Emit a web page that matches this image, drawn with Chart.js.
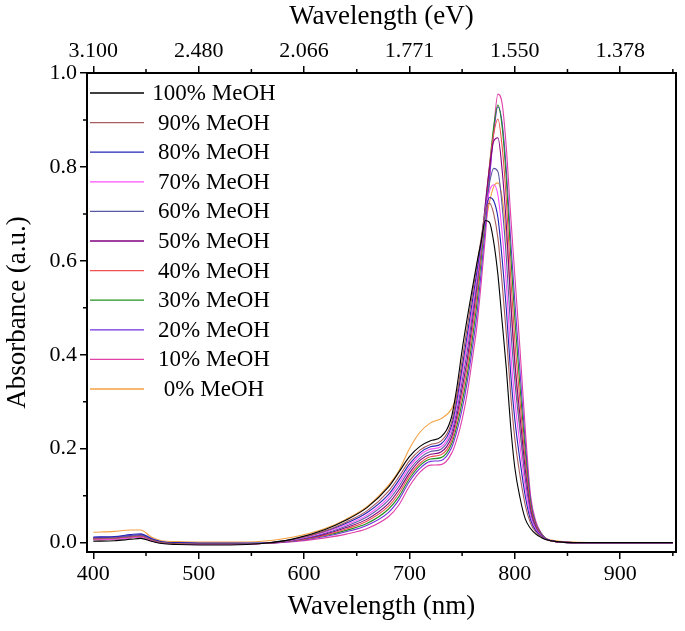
<!DOCTYPE html>
<html lang="en">
<head>
<meta charset="UTF-8">
<title>Absorbance vs wavelength</title>
<script src="https://cdn.jsdelivr.net/npm/chart.js"></script>
<style>
  body { margin: 0; background: #fff; }
  #wrap { width: 685px; height: 631px; }
</style>
</head>
<body>
<div id="wrap"><canvas id="absChart" width="685" height="631"></canvas></div>
<script>
// wavelength grid (nm), denser around the main band
const wavelengths = [400,420,435,445,455,465,480,500,530,560,590,620,640,660,680,690,700,710,720,730,740,
  745,750,755,760,764,768,772,776,780,784,788,792,796,800,805,810,815,820,825,830,840,855,880,920,950];

const nmTicks = [400,500,600,700,800,900];
const nmMinor = [450,550,650,750,850,950];
const evTickLabels = ['3.100','2.480','2.066','1.771','1.550','1.378'];
const absTicks = [0,0.2,0.4,0.6,0.8,1.0];
const absMinor = [0.1,0.3,0.5,0.7,0.9];

const seriesNames = ['100% MeOH','90% MeOH','80% MeOH','70% MeOH','60% MeOH','50% MeOH',
  '40% MeOH','30% MeOH','20% MeOH','10% MeOH','0% MeOH'];
const seriesColors = ['#000000','#a85c5c','#2424b4','#ff50ff','#5a5aa4','#800080',
  '#f05050','#209020','#7030e0','#e040a8','#f4a040'];

const meoh100 = [0.003,0.004,0.007,0.009,0.003,-0.002,-0.004,-0.005,-0.005,-0.002,0.008,0.028,0.048,0.075,0.118,0.150,0.183,0.205,0.217,0.225,0.268,
  0.330,0.410,0.480,0.545,0.595,0.640,0.686,0.682,0.640,0.570,0.470,0.370,0.250,0.160,0.095,0.050,0.030,0.018,0.011,0.006,0.002,0,0,0,0];
const meoh90 = [0.008,0.009,0.012,0.014,0.006,0.000,-0.002,-0.003,-0.003,-0.002,0.007,0.025,0.044,0.068,0.109,0.140,0.174,0.197,0.209,0.216,0.256,
  0.314,0.388,0.461,0.533,0.590,0.647,0.705,0.723,0.700,0.648,0.552,0.444,0.318,0.222,0.142,0.079,0.041,0.022,0.013,0.006,0.002,0,0,0,0];
const meoh80 = [0.012,0.013,0.017,0.019,0.009,0.002,0.000,-0.001,-0.001,-0.001,0.007,0.024,0.041,0.064,0.102,0.133,0.167,0.191,0.204,0.210,0.249,
  0.303,0.373,0.444,0.518,0.577,0.639,0.704,0.735,0.728,0.692,0.604,0.496,0.363,0.263,0.174,0.098,0.048,0.025,0.014,0.007,0.002,0,0,0,0];
const meoh70 = [0.006,0.007,0.010,0.012,0.004,-0.001,-0.003,-0.004,-0.004,-0.002,0.006,0.022,0.038,0.059,0.096,0.126,0.161,0.186,0.199,0.204,0.241,
  0.292,0.358,0.427,0.503,0.565,0.632,0.704,0.749,0.762,0.740,0.660,0.550,0.408,0.304,0.205,0.117,0.055,0.028,0.015,0.007,0.002,0,0,0,0];
const meoh60 = [0.010,0.011,0.014,0.016,0.007,0.001,-0.001,-0.002,-0.002,-0.001,0.005,0.020,0.035,0.055,0.090,0.119,0.155,0.180,0.194,0.199,0.233,
  0.281,0.343,0.409,0.488,0.552,0.627,0.707,0.766,0.797,0.790,0.717,0.606,0.460,0.345,0.237,0.136,0.062,0.030,0.016,0.007,0.002,0,0,0,0];
const meoh50 = [0.009,0.010,0.013,0.015,0.006,0.000,-0.002,-0.003,-0.003,-0.002,0.005,0.018,0.032,0.050,0.083,0.112,0.148,0.175,0.188,0.193,0.225,
  0.270,0.329,0.392,0.475,0.546,0.630,0.721,0.798,0.855,0.862,0.793,0.676,0.518,0.386,0.268,0.155,0.069,0.033,0.017,0.007,0.002,0,0,0,0];
const meoh40 = [0.007,0.008,0.011,0.013,0.005,0.000,-0.002,-0.003,-0.003,-0.002,0.004,0.016,0.029,0.046,0.077,0.105,0.142,0.169,0.183,0.187,0.217,
  0.259,0.314,0.376,0.457,0.527,0.616,0.713,0.803,0.871,0.902,0.843,0.728,0.570,0.432,0.300,0.174,0.076,0.036,0.018,0.007,0.002,0,0,0,0];
const meoh30 = [0.006,0.007,0.010,0.012,0.004,-0.001,-0.002,-0.003,-0.003,-0.002,0.004,0.015,0.026,0.041,0.071,0.098,0.136,0.164,0.178,0.181,0.210,
  0.248,0.299,0.360,0.438,0.509,0.600,0.700,0.802,0.886,0.932,0.885,0.773,0.617,0.478,0.331,0.193,0.083,0.038,0.019,0.008,0.002,0,0,0,0];
const meoh20 = [0.011,0.012,0.015,0.017,0.008,0.001,-0.001,-0.002,-0.002,-0.002,0.003,0.013,0.023,0.037,0.064,0.091,0.130,0.158,0.173,0.175,0.202,
  0.237,0.284,0.344,0.418,0.485,0.574,0.671,0.779,0.872,0.928,0.894,0.793,0.647,0.515,0.363,0.212,0.090,0.041,0.020,0.008,0.002,0,0,0,0];
const meoh10 = [0.006,0.007,0.010,0.012,0.004,0.000,-0.002,-0.003,-0.003,-0.002,0.002,0.010,0.018,0.030,0.055,0.080,0.120,0.150,0.165,0.166,0.190,
  0.220,0.262,0.320,0.395,0.460,0.550,0.650,0.770,0.880,0.955,0.935,0.840,0.700,0.570,0.410,0.240,0.100,0.045,0.021,0.008,0.002,0,0,0,0];
const meoh0 = [0.022,0.024,0.027,0.027,0.012,0.004,0.002,0.001,0.001,0.003,0.012,0.030,0.050,0.077,0.122,0.153,0.200,0.235,0.255,0.264,0.285,
  0.315,0.365,0.425,0.495,0.555,0.615,0.675,0.725,0.758,0.766,0.735,0.650,0.520,0.380,0.245,0.135,0.068,0.034,0.017,0.009,0.004,0.001,0,0,0];

const seriesValues = [meoh100, meoh90, meoh80, meoh70, meoh60, meoh50, meoh40, meoh30, meoh20, meoh10, meoh0];

const serif = "'Liberation Serif', 'Times New Roman', serif";

// box round the plot + short minor ticks
const framePlugin = {
  id: 'frame',
  afterDraw(chart) {
    const { ctx, chartArea: a, scales } = chart;
    ctx.save();
    ctx.strokeStyle = '#000';
    ctx.lineWidth = 2;
    ctx.strokeRect(a.left, a.top, a.right - a.left, a.bottom - a.top);
    ctx.lineWidth = 1.5;
    ctx.beginPath();
    nmMinor.forEach(v => {
      const px = scales.x.getPixelForValue(v);
      ctx.moveTo(px, a.bottom); ctx.lineTo(px, a.bottom + 4);
      ctx.moveTo(px, a.top); ctx.lineTo(px, a.top - 4);
    });
    absMinor.forEach(v => {
      const py = scales.y.getPixelForValue(v);
      ctx.moveTo(a.left, py); ctx.lineTo(a.left - 4, py);
    });
    ctx.stroke();
    ctx.restore();
  }
};

// legend drawn inside the plot, top left
const legendPlugin = {
  id: 'insideLegend',
  afterDraw(chart) {
    const ctx = chart.ctx;
    ctx.save();
    ctx.font = '23px ' + serif;
    ctx.textAlign = 'center';
    ctx.textBaseline = 'middle';
    chart.data.datasets.forEach((ds, i) => {
      const y = 93 + i * 29.6;
      ctx.strokeStyle = ds.borderColor;
      ctx.lineWidth = 1.3;
      ctx.beginPath();
      ctx.moveTo(90, y); ctx.lineTo(144, y);
      ctx.stroke();
      ctx.fillStyle = '#000';
      ctx.fillText(ds.label, 214, y + 1);
    });
    ctx.restore();
  }
};

const tickGrid = { drawOnChartArea: false, drawTicks: true, tickLength: 7, color: '#000', lineWidth: 1.5 };
const tickFont = { family: serif, size: 22 };
const titleFont = { family: serif, size: 27 };

new Chart(document.getElementById('absChart'), {
  type: 'line',
  data: {
    datasets: seriesNames.map((name, i) => ({
      label: name,
      data: wavelengths.map((w, j) => ({ x: w, y: seriesValues[i][j] })),
      borderColor: seriesColors[i],
      borderWidth: 1.1,
      pointRadius: 0,
      fill: false,
      cubicInterpolationMode: 'monotone'
    }))
  },
  options: {
    responsive: false,
    animation: false,
    devicePixelRatio: 1,
    layout: { padding: { left: 0, right: 9, top: 0, bottom: 0 } },
    plugins: { legend: { display: false }, tooltip: { enabled: false } },
    scales: {
      x: {
        type: 'linear', position: 'bottom', min: 394, max: 953,
        afterBuildTicks: s => { s.ticks = nmTicks.map(v => ({ value: v })); },
        afterFit: s => { s.height = 79; },
        ticks: { font: tickFont, color: '#000', padding: 2, maxRotation: 0, autoSkip: false, callback: v => String(v) },
        grid: tickGrid,
        border: { display: false },
        title: { display: true, text: 'Wavelength (nm)', font: titleFont, color: '#000', padding: { top: 0, bottom: 8 } }
      },
      xTop: {
        type: 'linear', position: 'top', min: 394, max: 953,
        afterBuildTicks: s => { s.ticks = nmTicks.map(v => ({ value: v })); },
        afterFit: s => { s.height = 73; },
        ticks: { font: tickFont, color: '#000', padding: 2, maxRotation: 0, autoSkip: false, callback: (v, i) => evTickLabels[i] },
        grid: tickGrid,
        border: { display: false },
        title: { display: true, text: 'Wavelength (eV)', font: titleFont, color: '#000', padding: { top: 1, bottom: 0 } }
      },
      y: {
        type: 'linear', position: 'left', min: -0.02, max: 1.0,
        afterBuildTicks: s => { s.ticks = absTicks.map(v => ({ value: v })); },
        afterFit: s => { s.width = 87; },
        ticks: { font: tickFont, color: '#000', padding: 3, autoSkip: false, callback: v => v.toFixed(1) },
        grid: tickGrid,
        border: { display: false },
        title: { display: true, text: 'Absorbance (a.u.)', font: titleFont, color: '#000', padding: { top: 2, bottom: 0 } }
      }
    }
  },
  plugins: [framePlugin, legendPlugin]
});
</script>
</body>
</html>
